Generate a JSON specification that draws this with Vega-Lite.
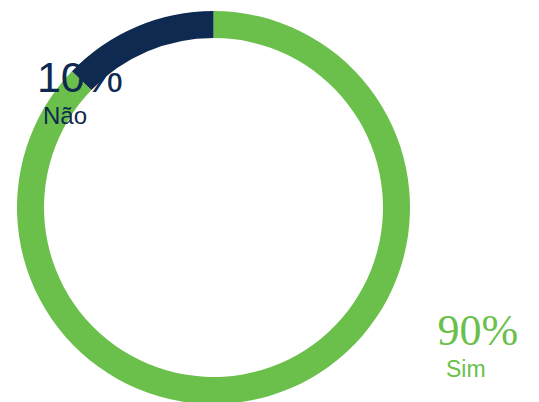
{
  "$schema": "https://vega.github.io/schema/vega-lite/v6.json",
  "width": 427,
  "height": 389,
  "autosize": {"type": "none"},
  "padding": {"left": 0, "top": 13, "right": 112, "bottom": 0},
  "background": "white",
  "config": {"view": {"stroke": null}},
  "data": {
    "values": [
      {"cat": "Sim", "value": 87.2, "ord": 1, "pct": "90%"},
      {"cat": "Não", "value": 12.8, "ord": 2, "pct": "10%"}
    ]
  },
  "transform": [
    {"stack": "value", "groupby": [], "sort": [{"field": "ord"}], "as": ["v0", "v1"]}
  ],
  "layer": [
    {
      "mark": {"type": "arc", "outerRadius": 196.5, "innerRadius": 169.5},
      "encoding": {
        "theta": {"field": "v0", "type": "quantitative", "scale": {"domain": [0, 100]}},
        "theta2": {"field": "v1"},
        "color": {
          "field": "cat", "type": "nominal",
          "scale": {"domain": ["Sim", "Não"], "range": ["#6bbf4b", "#0f2a50"]},
          "legend": null
        }
      }
    },
    {
      "transform": [{"filter": "datum.cat === 'Não'"}],
      "mark": {"type": "text", "radius": 150, "align": "left", "baseline": "alphabetic", "font": "Liberation Sans", "fontSize": 43, "color": "#0f2a50", "dx": -68.5, "dy": -11.5},
      "encoding": {
        "theta": {"field": "v0", "type": "quantitative"},
        "text": {"field": "pct"}
      }
    },
    {
      "transform": [{"filter": "datum.cat === 'Não'"}],
      "mark": {"type": "text", "radius": 150, "align": "left", "baseline": "alphabetic", "font": "Liberation Sans", "fontSize": 24, "color": "#0f2a50", "dx": -62.5, "dy": 20.5},
      "encoding": {
        "theta": {"field": "v0", "type": "quantitative"},
        "text": {"field": "cat"}
      }
    },
    {
      "transform": [{"filter": "datum.cat === 'Sim'"}],
      "mark": {"type": "text", "radius": 150, "align": "left", "baseline": "alphabetic", "font": "Liberation Serif", "fontSize": 44, "color": "#6bbf4b", "dx": 224, "dy": 287.5},
      "encoding": {
        "theta": {"field": "v0", "type": "quantitative"},
        "text": {"field": "pct"}
      }
    },
    {
      "transform": [{"filter": "datum.cat === 'Sim'"}],
      "mark": {"type": "text", "radius": 150, "align": "left", "baseline": "alphabetic", "font": "Liberation Sans", "fontSize": 23, "color": "#6bbf4b", "dx": 232.5, "dy": 319.5},
      "encoding": {
        "theta": {"field": "v0", "type": "quantitative"},
        "text": {"field": "cat"}
      }
    }
  ]
}
